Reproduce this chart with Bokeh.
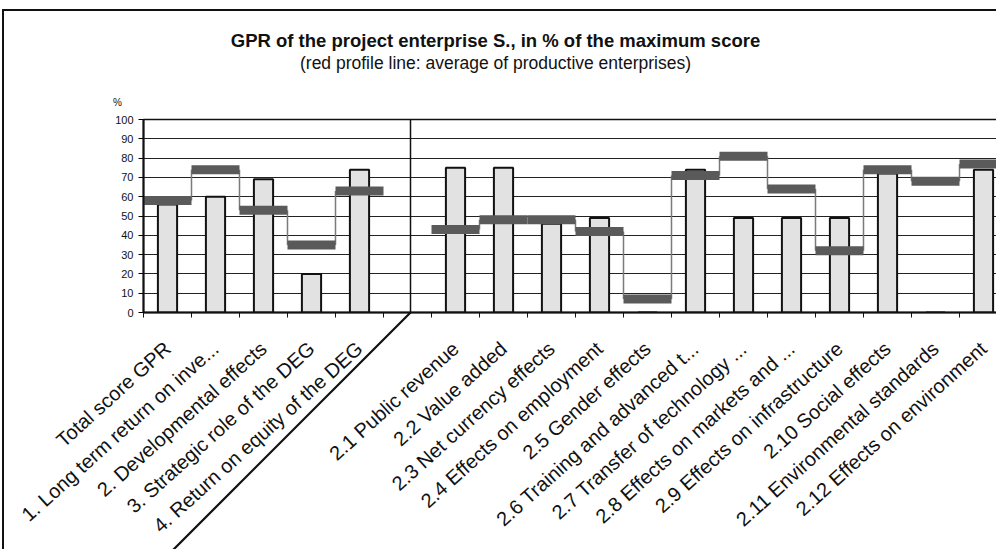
import math
from bokeh.plotting import figure
from bokeh.models import (FixedTicker, Range1d, Label, ColumnDataSource)
from bokeh.embed import file_html
from bokeh.resources import INLINE

# ---------------- data ----------------
left_categories = ["Total score GPR", "1. Long term return on inve...",
                   "2. Developmental effects", "3. Strategic role of the DEG",
                   "4. Return on equity of the DEG"]
left_scores = [56, 60, 69, 20, 74]          # project enterprise S., % of max score
left_average = [58, 74, 53, 35, 63]         # profile line: average of productive enterprises

right_categories = ["2.1 Public revenue", "2.2 Value added", "2.3 Net currency effects",
                    "2.4 Effects on employment", "2.5 Gender effects",
                    "2.6 Training and advanced t...", "2.7 Transfer of technology ...",
                    "2.8 Effects on markets and ...", "2.9 Effects on infrastructure",
                    "2.10 Social effects", "2.11 Environmental standards",
                    "2.12 Effects on environment"]
right_scores = [75, 75, 46, 49, 0, 74, 49, 49, 49, 72, 0, 74]
right_average = [43, 48, 48, 42, 7, 71, 81, 64, 32, 74, 68, 77]

y_ticks = [0, 10, 20, 30, 40, 50, 60, 70, 80, 90, 100]

title_text = "GPR of the project enterprise S., in % of the maximum score"
subtitle_text = "(red profile line: average of productive enterprises)"

FONT = "Liberation Sans"

# ---------------- positions derived from category order ----------------
n_left = len(left_categories)
gap = n_left                      # one empty slot separates the two groups
left_x = list(range(n_left))
right_x = [gap + 1 + i for i in range(len(right_categories))]
all_x = left_x + right_x
all_labels = left_categories + right_categories
boundaries = [x - 0.5 for x in left_x] + [left_x[-1] + 0.5] + \
             [x - 0.5 for x in right_x] + [right_x[-1] + 0.5]

W, H = 994, 540
ML, MR, MT, MB = 139, 0, 108, 239
frame_w = W - ML - MR
frame_h = H - MT - MB
px_per_cat = 48.0
x_start = -0.5
x_end = x_start + frame_w / px_per_cat
px_per_y = frame_h / 100.0

p = figure(width=W, height=H, output_backend="svg", toolbar_location=None,
           x_range=Range1d(x_start, x_end), y_range=Range1d(0, 100),
           min_border_left=ML, min_border_right=MR, min_border_top=MT,
           min_border_bottom=MB)
p.styles = {"border-top": "2px solid #111", "border-left": "2px solid #111",
            "margin-left": "2px", "margin-top": "9px"}
p.background_fill_color = "white"
p.border_fill_color = "white"
p.outline_line_color = "#111"
p.outline_line_width = 1.5

# grid
p.xgrid.visible = False
p.ygrid.ticker = FixedTicker(ticks=y_ticks)
p.ygrid.grid_line_color = "#222"
p.ygrid.grid_line_width = 1.2

# y axis
p.yaxis.ticker = FixedTicker(ticks=y_ticks)
p.yaxis.axis_line_color = "#111"
p.yaxis.axis_line_width = 2
p.yaxis.major_tick_out = 5
p.yaxis.major_tick_in = 0
p.yaxis.minor_tick_line_color = None
p.yaxis.major_label_text_font = FONT
p.yaxis.major_label_text_font_size = "11px"
p.yaxis.major_label_text_color = "#111"
p.yaxis.major_label_standoff = 5

# x axis: labels at category centres, ticks at category boundaries
p.xaxis.ticker = FixedTicker(ticks=all_x, minor_ticks=boundaries)
p.xaxis.major_label_overrides = {x: lab for x, lab in zip(all_x, all_labels)}
p.xaxis.major_label_orientation = math.radians(42)
p.xaxis.major_label_text_font = FONT
p.xaxis.major_label_text_font_size = "20px"
p.xaxis.major_label_text_color = "#111"
p.xaxis.major_label_standoff = 28
p.xaxis.major_tick_in = 0
p.xaxis.major_tick_out = 0
p.xaxis.minor_tick_in = 0
p.xaxis.minor_tick_out = 5
p.xaxis.minor_tick_line_color = "#111"
p.xaxis.axis_line_color = "#111"
p.xaxis.axis_line_width = 2

# bars
bars = ColumnDataSource(dict(x=all_x, top=left_scores + right_scores))
p.vbar(x="x", top="top", width=0.4, bottom=0, source=bars,
       fill_color="#e2e2e2", line_color="#111", line_width=2)

# profile lines (average of productive enterprises)
def profile(xs, vals):
    p.segment(x0=[x + 0.5 for x in xs[:-1]], y0=vals[:-1],
              x1=[x - 0.5 for x in xs[1:]], y1=vals[1:],
              line_color="#7a7a7a", line_width=1.5)
    p.segment(x0=[x - 0.5 for x in xs], y0=vals, x1=[x + 0.5 for x in xs], y1=vals,
              line_color="#5a5a5a", line_width=9, line_cap="butt")

profile(left_x, left_average)
profile(right_x, right_average)

# group separator: vertical within the plot ...
sep_x = gap + 3 / px_per_cat
p.segment(x0=[sep_x], y0=[0], x1=[sep_x], y1=[100], line_color="#111", line_width=1.5)
# ... and continued diagonally through the label area (a thin rotated box)
diag_px = 245
half_len = int(round(diag_px * math.sqrt(2) / 2))
p.add_layout(Label(x=sep_x - diag_px / px_per_cat / 2, y=-diag_px / px_per_y / 2,
                   text=" ", angle=math.radians(45),
                   text_align="center", text_baseline="middle",
                   text_font=FONT, text_font_size="2px",
                   background_fill_color="#111",
                   padding=(half_len, half_len, 0, 0)), "below")

# "%" above the y axis
p.add_layout(Label(x=x_start, y=100, text="%", x_offset=-26, y_offset=17,
                   text_align="center", text_baseline="middle",
                   text_font=FONT, text_font_size="10px", text_color="#111"), "left")

# titles
title_center_x = x_start + 352 / px_per_cat
p.add_layout(Label(x=title_center_x, y=100, text=title_text, y_offset=79,
                   text_align="center", text_baseline="middle",
                   text_font=FONT, text_font_size="18.5px", text_font_style="bold",
                   text_color="#111"), "above")
p.add_layout(Label(x=title_center_x, y=100, text=subtitle_text, y_offset=57,
                   text_align="center", text_baseline="middle",
                   text_font=FONT, text_font_size="17.5px", text_font_style="normal",
                   text_color="#111"), "above")

open("out.html", "w").write(file_html(p, INLINE))
